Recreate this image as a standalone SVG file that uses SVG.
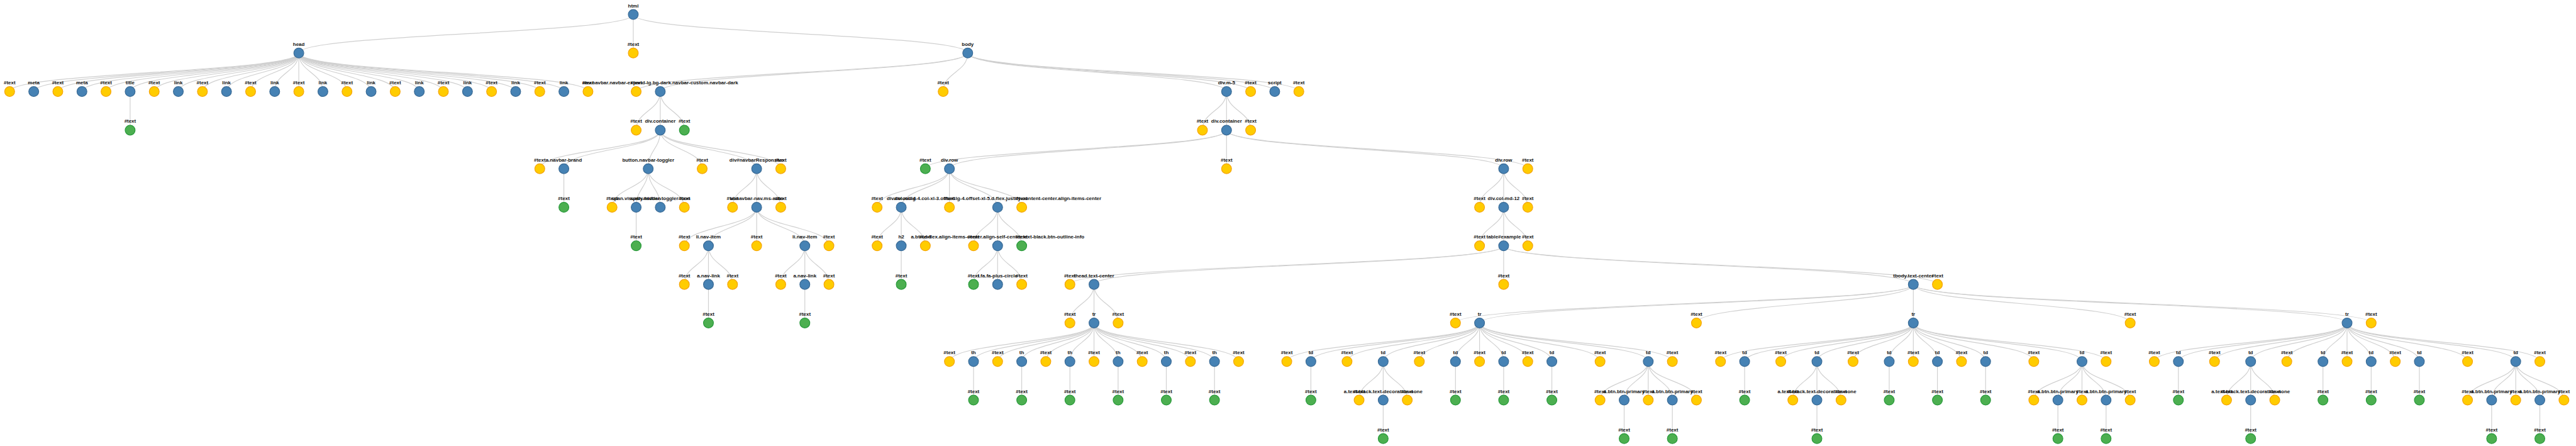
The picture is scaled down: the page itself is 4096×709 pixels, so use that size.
<svg xmlns="http://www.w3.org/2000/svg" width="4096" height="709" viewBox="0 0 4096 709">
<style>
#links path{fill:none;stroke:#cfcfcf;stroke-width:1.5}
.node circle{stroke-width:1.6}
.e circle{fill:#4682b4;stroke:#3a6b96}
.t circle{fill:#ffcc00;stroke:#f5a50a}
.g circle{fill:#4caf50;stroke:#2a9a3c}
.node text{font-family:"Liberation Sans",Arial,sans-serif;font-weight:bold;font-size:10.4px;text-anchor:middle;fill:#111}
</style>
<rect width="4096" height="709" fill="#fff"/>
<g transform="scale(0.76632)">
<g id="links">
<path d="M1314 30C1314 70 620 70 620 110"/><path d="M1314 30C1314 70 1314 70 1314 110"/><path d="M1314 30C1314 70 2008 70 2008 110"/>
<path d="M620 110C620 150 20 150 20 190"/><path d="M620 110C620 150 70 150 70 190"/><path d="M620 110C620 150 120 150 120 190"/><path d="M620 110C620 150 170 150 170 190"/><path d="M620 110C620 150 220 150 220 190"/><path d="M620 110C620 150 270 150 270 190"/><path d="M620 110C620 150 320 150 320 190"/><path d="M620 110C620 150 370 150 370 190"/><path d="M620 110C620 150 420 150 420 190"/><path d="M620 110C620 150 470 150 470 190"/><path d="M620 110C620 150 520 150 520 190"/><path d="M620 110C620 150 570 150 570 190"/><path d="M620 110C620 150 620 150 620 190"/><path d="M620 110C620 150 670 150 670 190"/><path d="M620 110C620 150 720 150 720 190"/><path d="M620 110C620 150 770 150 770 190"/><path d="M620 110C620 150 820 150 820 190"/><path d="M620 110C620 150 870 150 870 190"/><path d="M620 110C620 150 920 150 920 190"/><path d="M620 110C620 150 970 150 970 190"/><path d="M620 110C620 150 1020 150 1020 190"/><path d="M620 110C620 150 1070 150 1070 190"/><path d="M620 110C620 150 1120 150 1120 190"/><path d="M620 110C620 150 1170 150 1170 190"/><path d="M620 110C620 150 1220 150 1220 190"/>
<path d="M2008 110C2008 150 1320 150 1320 190"/><path d="M2008 110C2008 150 1370 150 1370 190"/><path d="M2008 110C2008 150 1957 150 1957 190"/><path d="M2008 110C2008 150 2545 150 2545 190"/><path d="M2008 110C2008 150 2595 150 2595 190"/><path d="M2008 110C2008 150 2645 150 2645 190"/><path d="M2008 110C2008 150 2695 150 2695 190"/>
<path d="M270 190C270 230 270 230 270 270"/><path d="M1370 190C1370 230 1320 230 1320 270"/><path d="M1370 190C1370 230 1370 230 1370 270"/><path d="M1370 190C1370 230 1420 230 1420 270"/><path d="M2545 190C2545 230 2495 230 2495 270"/><path d="M2545 190C2545 230 2545 230 2545 270"/><path d="M2545 190C2545 230 2595 230 2595 270"/>
<path d="M1370 270C1370 310 1120 310 1120 350"/><path d="M1370 270C1370 310 1170 310 1170 350"/><path d="M1370 270C1370 310 1345 310 1345 350"/><path d="M1370 270C1370 310 1457 310 1457 350"/><path d="M1370 270C1370 310 1570 310 1570 350"/><path d="M1370 270C1370 310 1620 310 1620 350"/>
<path d="M2545 270C2545 310 1920 310 1920 350"/><path d="M2545 270C2545 310 1970 310 1970 350"/><path d="M2545 270C2545 310 2545 310 2545 350"/><path d="M2545 270C2545 310 3120 310 3120 350"/><path d="M2545 270C2545 310 3170 310 3170 350"/>
<path d="M1170 350C1170 390 1170 390 1170 430"/><path d="M1345 350C1345 390 1270 390 1270 430"/><path d="M1345 350C1345 390 1320 390 1320 430"/><path d="M1345 350C1345 390 1370 390 1370 430"/><path d="M1345 350C1345 390 1420 390 1420 430"/><path d="M1570 350C1570 390 1520 390 1520 430"/><path d="M1570 350C1570 390 1570 390 1570 430"/><path d="M1570 350C1570 390 1620 390 1620 430"/>
<path d="M1970 350C1970 390 1820 390 1820 430"/><path d="M1970 350C1970 390 1870 390 1870 430"/><path d="M1970 350C1970 390 1970 390 1970 430"/><path d="M1970 350C1970 390 2070 390 2070 430"/><path d="M1970 350C1970 390 2120 390 2120 430"/><path d="M3120 350C3120 390 3070 390 3070 430"/><path d="M3120 350C3120 390 3120 390 3120 430"/><path d="M3120 350C3120 390 3170 390 3170 430"/>
<path d="M1320 430C1320 470 1320 470 1320 510"/><path d="M1570 430C1570 470 1420 470 1420 510"/><path d="M1570 430C1570 470 1470 470 1470 510"/><path d="M1570 430C1570 470 1570 470 1570 510"/><path d="M1570 430C1570 470 1670 470 1670 510"/><path d="M1570 430C1570 470 1720 470 1720 510"/>
<path d="M1870 430C1870 470 1820 470 1820 510"/><path d="M1870 430C1870 470 1870 470 1870 510"/><path d="M1870 430C1870 470 1920 470 1920 510"/><path d="M2070 430C2070 470 2020 470 2020 510"/><path d="M2070 430C2070 470 2070 470 2070 510"/><path d="M2070 430C2070 470 2120 470 2120 510"/><path d="M3120 430C3120 470 3070 470 3070 510"/><path d="M3120 430C3120 470 3120 470 3120 510"/><path d="M3120 430C3120 470 3170 470 3170 510"/>
<path d="M1470 510C1470 550 1420 550 1420 590"/><path d="M1470 510C1470 550 1470 550 1470 590"/><path d="M1470 510C1470 550 1520 550 1520 590"/><path d="M1670 510C1670 550 1620 550 1620 590"/><path d="M1670 510C1670 550 1670 550 1670 590"/><path d="M1670 510C1670 550 1720 550 1720 590"/><path d="M1870 510C1870 550 1870 550 1870 590"/><path d="M2070 510C2070 550 2020 550 2020 590"/><path d="M2070 510C2070 550 2070 550 2070 590"/><path d="M2070 510C2070 550 2120 550 2120 590"/>
<path d="M3120 510C3120 550 2220 550 2220 590"/><path d="M3120 510C3120 550 2270 550 2270 590"/><path d="M3120 510C3120 550 3120 550 3120 590"/><path d="M3120 510C3120 550 3970 550 3970 590"/><path d="M3120 510C3120 550 4020 550 4020 590"/>
<path d="M1470 590C1470 630 1470 630 1470 670"/><path d="M1670 590C1670 630 1670 630 1670 670"/><path d="M2270 590C2270 630 2220 630 2220 670"/><path d="M2270 590C2270 630 2270 630 2270 670"/><path d="M2270 590C2270 630 2320 630 2320 670"/>
<path d="M3970 590C3970 630 3020 630 3020 670"/><path d="M3970 590C3970 630 3070 630 3070 670"/><path d="M3970 590C3970 630 3520 630 3520 670"/><path d="M3970 590C3970 630 3970 630 3970 670"/><path d="M3970 590C3970 630 4420 630 4420 670"/><path d="M3970 590C3970 630 4870 630 4870 670"/><path d="M3970 590C3970 630 4920 630 4920 670"/>
<path d="M2270 670C2270 710 1970 710 1970 750"/><path d="M2270 670C2270 710 2020 710 2020 750"/><path d="M2270 670C2270 710 2070 710 2070 750"/><path d="M2270 670C2270 710 2120 710 2120 750"/><path d="M2270 670C2270 710 2170 710 2170 750"/><path d="M2270 670C2270 710 2220 710 2220 750"/><path d="M2270 670C2270 710 2270 710 2270 750"/><path d="M2270 670C2270 710 2320 710 2320 750"/><path d="M2270 670C2270 710 2370 710 2370 750"/><path d="M2270 670C2270 710 2420 710 2420 750"/><path d="M2270 670C2270 710 2470 710 2470 750"/><path d="M2270 670C2270 710 2520 710 2520 750"/><path d="M2270 670C2270 710 2570 710 2570 750"/>
<path d="M3070 670C3070 710 2670 710 2670 750"/><path d="M3070 670C3070 710 2720 710 2720 750"/><path d="M3070 670C3070 710 2795 710 2795 750"/><path d="M3070 670C3070 710 2870 710 2870 750"/><path d="M3070 670C3070 710 2945 710 2945 750"/><path d="M3070 670C3070 710 3020 710 3020 750"/><path d="M3070 670C3070 710 3070 710 3070 750"/><path d="M3070 670C3070 710 3120 710 3120 750"/><path d="M3070 670C3070 710 3170 710 3170 750"/><path d="M3070 670C3070 710 3220 710 3220 750"/><path d="M3070 670C3070 710 3320 710 3320 750"/><path d="M3070 670C3070 710 3420 710 3420 750"/><path d="M3070 670C3070 710 3470 710 3470 750"/>
<path d="M3970 670C3970 710 3570 710 3570 750"/><path d="M3970 670C3970 710 3620 710 3620 750"/><path d="M3970 670C3970 710 3695 710 3695 750"/><path d="M3970 670C3970 710 3770 710 3770 750"/><path d="M3970 670C3970 710 3845 710 3845 750"/><path d="M3970 670C3970 710 3920 710 3920 750"/><path d="M3970 670C3970 710 3970 710 3970 750"/><path d="M3970 670C3970 710 4020 710 4020 750"/><path d="M3970 670C3970 710 4070 710 4070 750"/><path d="M3970 670C3970 710 4120 710 4120 750"/><path d="M3970 670C3970 710 4220 710 4220 750"/><path d="M3970 670C3970 710 4320 710 4320 750"/><path d="M3970 670C3970 710 4370 710 4370 750"/>
<path d="M4870 670C4870 710 4470 710 4470 750"/><path d="M4870 670C4870 710 4520 710 4520 750"/><path d="M4870 670C4870 710 4595 710 4595 750"/><path d="M4870 670C4870 710 4670 710 4670 750"/><path d="M4870 670C4870 710 4745 710 4745 750"/><path d="M4870 670C4870 710 4820 710 4820 750"/><path d="M4870 670C4870 710 4870 710 4870 750"/><path d="M4870 670C4870 710 4920 710 4920 750"/><path d="M4870 670C4870 710 4970 710 4970 750"/><path d="M4870 670C4870 710 5020 710 5020 750"/><path d="M4870 670C4870 710 5120 710 5120 750"/><path d="M4870 670C4870 710 5220 710 5220 750"/><path d="M4870 670C4870 710 5270 710 5270 750"/>
<path d="M2020 750C2020 790 2020 790 2020 830"/><path d="M2120 750C2120 790 2120 790 2120 830"/><path d="M2220 750C2220 790 2220 790 2220 830"/><path d="M2320 750C2320 790 2320 790 2320 830"/><path d="M2420 750C2420 790 2420 790 2420 830"/><path d="M2520 750C2520 790 2520 790 2520 830"/>
<path d="M2720 750C2720 790 2720 790 2720 830"/><path d="M2870 750C2870 790 2820 790 2820 830"/><path d="M2870 750C2870 790 2870 790 2870 830"/><path d="M2870 750C2870 790 2920 790 2920 830"/><path d="M3020 750C3020 790 3020 790 3020 830"/><path d="M3120 750C3120 790 3120 790 3120 830"/><path d="M3220 750C3220 790 3220 790 3220 830"/><path d="M3420 750C3420 790 3320 790 3320 830"/><path d="M3420 750C3420 790 3370 790 3370 830"/><path d="M3420 750C3420 790 3420 790 3420 830"/><path d="M3420 750C3420 790 3470 790 3470 830"/><path d="M3420 750C3420 790 3520 790 3520 830"/>
<path d="M3620 750C3620 790 3620 790 3620 830"/><path d="M3770 750C3770 790 3720 790 3720 830"/><path d="M3770 750C3770 790 3770 790 3770 830"/><path d="M3770 750C3770 790 3820 790 3820 830"/><path d="M3920 750C3920 790 3920 790 3920 830"/><path d="M4020 750C4020 790 4020 790 4020 830"/><path d="M4120 750C4120 790 4120 790 4120 830"/><path d="M4320 750C4320 790 4220 790 4220 830"/><path d="M4320 750C4320 790 4270 790 4270 830"/><path d="M4320 750C4320 790 4320 790 4320 830"/><path d="M4320 750C4320 790 4370 790 4370 830"/><path d="M4320 750C4320 790 4420 790 4420 830"/>
<path d="M4520 750C4520 790 4520 790 4520 830"/><path d="M4670 750C4670 790 4620 790 4620 830"/><path d="M4670 750C4670 790 4670 790 4670 830"/><path d="M4670 750C4670 790 4720 790 4720 830"/><path d="M4820 750C4820 790 4820 790 4820 830"/><path d="M4920 750C4920 790 4920 790 4920 830"/><path d="M5020 750C5020 790 5020 790 5020 830"/><path d="M5220 750C5220 790 5120 790 5120 830"/><path d="M5220 750C5220 790 5170 790 5170 830"/><path d="M5220 750C5220 790 5220 790 5220 830"/><path d="M5220 750C5220 790 5270 790 5270 830"/><path d="M5220 750C5220 790 5320 790 5320 830"/>
<path d="M2870 830C2870 870 2870 870 2870 910"/><path d="M3370 830C3370 870 3370 870 3370 910"/><path d="M3470 830C3470 870 3470 870 3470 910"/>
<path d="M3770 830C3770 870 3770 870 3770 910"/><path d="M4270 830C4270 870 4270 870 4270 910"/><path d="M4370 830C4370 870 4370 870 4370 910"/>
<path d="M4670 830C4670 870 4670 870 4670 910"/><path d="M5170 830C5170 870 5170 870 5170 910"/><path d="M5270 830C5270 870 5270 870 5270 910"/>
</g>
<g id="nodes">
<g id="n-html" class="node e" transform="translate(1314,30)"><circle r="10.3"/><text y="-15">html</text></g>
<g id="n-head" class="node e" transform="translate(620,110)"><circle r="10.3"/><text y="-15">head</text></g>
<g id="n-html-text" class="node t" transform="translate(1314,110)"><circle r="10.3"/><text y="-15">#text</text></g>
<g id="n-body" class="node e" transform="translate(2008,110)"><circle r="10.3"/><text y="-15">body</text></g>
<g id="h0" class="node t" transform="translate(20,190)"><circle r="10.3"/><text y="-15">#text</text></g>
<g id="h1" class="node e" transform="translate(70,190)"><circle r="10.3"/><text y="-15">meta</text></g>
<g id="h2" class="node t" transform="translate(120,190)"><circle r="10.3"/><text y="-15">#text</text></g>
<g id="h3" class="node e" transform="translate(170,190)"><circle r="10.3"/><text y="-15">meta</text></g>
<g id="h4" class="node t" transform="translate(220,190)"><circle r="10.3"/><text y="-15">#text</text></g>
<g id="h5" class="node e" transform="translate(270,190)"><circle r="10.3"/><text y="-15">title</text></g>
<g id="h6" class="node t" transform="translate(320,190)"><circle r="10.3"/><text y="-15">#text</text></g>
<g id="h7" class="node e" transform="translate(370,190)"><circle r="10.3"/><text y="-15">link</text></g>
<g id="h8" class="node t" transform="translate(420,190)"><circle r="10.3"/><text y="-15">#text</text></g>
<g id="h9" class="node e" transform="translate(470,190)"><circle r="10.3"/><text y="-15">link</text></g>
<g id="h10" class="node t" transform="translate(520,190)"><circle r="10.3"/><text y="-15">#text</text></g>
<g id="h11" class="node e" transform="translate(570,190)"><circle r="10.3"/><text y="-15">link</text></g>
<g id="h12" class="node t" transform="translate(620,190)"><circle r="10.3"/><text y="-15">#text</text></g>
<g id="h13" class="node e" transform="translate(670,190)"><circle r="10.3"/><text y="-15">link</text></g>
<g id="h14" class="node t" transform="translate(720,190)"><circle r="10.3"/><text y="-15">#text</text></g>
<g id="h15" class="node e" transform="translate(770,190)"><circle r="10.3"/><text y="-15">link</text></g>
<g id="h16" class="node t" transform="translate(820,190)"><circle r="10.3"/><text y="-15">#text</text></g>
<g id="h17" class="node e" transform="translate(870,190)"><circle r="10.3"/><text y="-15">link</text></g>
<g id="h18" class="node t" transform="translate(920,190)"><circle r="10.3"/><text y="-15">#text</text></g>
<g id="h19" class="node e" transform="translate(970,190)"><circle r="10.3"/><text y="-15">link</text></g>
<g id="h20" class="node t" transform="translate(1020,190)"><circle r="10.3"/><text y="-15">#text</text></g>
<g id="h21" class="node e" transform="translate(1070,190)"><circle r="10.3"/><text y="-15">link</text></g>
<g id="h22" class="node t" transform="translate(1120,190)"><circle r="10.3"/><text y="-15">#text</text></g>
<g id="h23" class="node e" transform="translate(1170,190)"><circle r="10.3"/><text y="-15">link</text></g>
<g id="h24" class="node t" transform="translate(1220,190)"><circle r="10.3"/><text y="-15">#text</text></g>
<g id="b0" class="node t" transform="translate(1320,190)"><circle r="10.3"/><text y="-15">#text</text></g>
<g id="b1" class="node e" transform="translate(1370,190)"><circle r="10.3"/><text y="-15">nav.navbar.navbar-expand-lg.bg-dark.navbar-custom.navbar-dark</text></g>
<g id="b2" class="node t" transform="translate(1957,190)"><circle r="10.3"/><text y="-15">#text</text></g>
<g id="b3" class="node e" transform="translate(2545,190)"><circle r="10.3"/><text y="-15">div.m-5</text></g>
<g id="b4" class="node t" transform="translate(2595,190)"><circle r="10.3"/><text y="-15">#text</text></g>
<g id="b5" class="node e" transform="translate(2645,190)"><circle r="10.3"/><text y="-15">script</text></g>
<g id="b6" class="node t" transform="translate(2695,190)"><circle r="10.3"/><text y="-15">#text</text></g>
<g id="title-text" class="node g" transform="translate(270,270)"><circle r="10.3"/><text y="-15">#text</text></g>
<g id="nav0" class="node t" transform="translate(1320,270)"><circle r="10.3"/><text y="-15">#text</text></g>
<g id="nav1" class="node e" transform="translate(1370,270)"><circle r="10.3"/><text y="-15">div.container</text></g>
<g id="nav2" class="node g" transform="translate(1420,270)"><circle r="10.3"/><text y="-15">#text</text></g>
<g id="m0" class="node t" transform="translate(2495,270)"><circle r="10.3"/><text y="-15">#text</text></g>
<g id="m1" class="node e" transform="translate(2545,270)"><circle r="10.3"/><text y="-15">div.container</text></g>
<g id="m2" class="node t" transform="translate(2595,270)"><circle r="10.3"/><text y="-15">#text</text></g>
<g id="c0" class="node t" transform="translate(1120,350)"><circle r="10.3"/><text y="-15">#text</text></g>
<g id="c1" class="node e" transform="translate(1170,350)"><circle r="10.3"/><text y="-15">a.navbar-brand</text></g>
<g id="c2" class="node e" transform="translate(1345,350)"><circle r="10.3"/><text y="-15">button.navbar-toggler</text></g>
<g id="c3" class="node t" transform="translate(1457,350)"><circle r="10.3"/><text y="-15">#text</text></g>
<g id="c4" class="node e" transform="translate(1570,350)"><circle r="10.3"/><text y="-15">div#navbarResponsive</text></g>
<g id="c5" class="node t" transform="translate(1620,350)"><circle r="10.3"/><text y="-15">#text</text></g>
<g id="d0" class="node g" transform="translate(1920,350)"><circle r="10.3"/><text y="-15">#text</text></g>
<g id="d1" class="node e" transform="translate(1970,350)"><circle r="10.3"/><text y="-15">div.row</text></g>
<g id="d2" class="node t" transform="translate(2545,350)"><circle r="10.3"/><text y="-15">#text</text></g>
<g id="d3" class="node e" transform="translate(3120,350)"><circle r="10.3"/><text y="-15">div.row</text></g>
<g id="d4" class="node t" transform="translate(3170,350)"><circle r="10.3"/><text y="-15">#text</text></g>
<g id="brand-text" class="node g" transform="translate(1170,430)"><circle r="10.3"/><text y="-15">#text</text></g>
<g id="bt0" class="node t" transform="translate(1270,430)"><circle r="10.3"/><text y="-15">#text</text></g>
<g id="bt1" class="node e" transform="translate(1320,430)"><circle r="10.3"/><text y="-15">span.visually-hidden</text></g>
<g id="bt2" class="node e" transform="translate(1370,430)"><circle r="10.3"/><text y="-15">span.navbar-toggler-icon</text></g>
<g id="bt3" class="node t" transform="translate(1420,430)"><circle r="10.3"/><text y="-15">#text</text></g>
<g id="nr0" class="node t" transform="translate(1520,430)"><circle r="10.3"/><text y="-15">#text</text></g>
<g id="nr1" class="node e" transform="translate(1570,430)"><circle r="10.3"/><text y="-15">ul.navbar-nav.ms-auto</text></g>
<g id="nr2" class="node t" transform="translate(1620,430)"><circle r="10.3"/><text y="-15">#text</text></g>
<g id="r0" class="node t" transform="translate(1820,430)"><circle r="10.3"/><text y="-15">#text</text></g>
<g id="r1" class="node e" transform="translate(1870,430)"><circle r="10.3"/><text y="-15">div.col-md-4</text></g>
<g id="r2" class="node t" transform="translate(1970,430)"><circle r="10.3"/><text y="-15">#text</text></g>
<g id="r3" class="node e" transform="translate(2070,430)"><circle r="10.3"/><text y="-15">div.col-lg-4.col-xl-3.offset-lg-4.offset-xl-5.d-flex.justify-content-center.align-items-center</text></g>
<g id="r4" class="node t" transform="translate(2120,430)"><circle r="10.3"/><text y="-15">#text</text></g>
<g id="r5" class="node t" transform="translate(3070,430)"><circle r="10.3"/><text y="-15">#text</text></g>
<g id="r6" class="node e" transform="translate(3120,430)"><circle r="10.3"/><text y="-15">div.col-md-12</text></g>
<g id="r7" class="node t" transform="translate(3170,430)"><circle r="10.3"/><text y="-15">#text</text></g>
<g id="vh-text" class="node g" transform="translate(1320,510)"><circle r="10.3"/><text y="-15">#text</text></g>
<g id="ul0" class="node t" transform="translate(1420,510)"><circle r="10.3"/><text y="-15">#text</text></g>
<g id="ul1" class="node e" transform="translate(1470,510)"><circle r="10.3"/><text y="-15">li.nav-item</text></g>
<g id="ul2" class="node t" transform="translate(1570,510)"><circle r="10.3"/><text y="-15">#text</text></g>
<g id="ul3" class="node e" transform="translate(1670,510)"><circle r="10.3"/><text y="-15">li.nav-item</text></g>
<g id="ul4" class="node t" transform="translate(1720,510)"><circle r="10.3"/><text y="-15">#text</text></g>
<g id="cm0" class="node t" transform="translate(1820,510)"><circle r="10.3"/><text y="-15">#text</text></g>
<g id="cm1" class="node e" transform="translate(1870,510)"><circle r="10.3"/><text y="-15">h2</text></g>
<g id="cm2" class="node t" transform="translate(1920,510)"><circle r="10.3"/><text y="-15">#text</text></g>
<g id="cl0" class="node t" transform="translate(2020,510)"><circle r="10.3"/><text y="-15">#text</text></g>
<g id="cl1" class="node e" transform="translate(2070,510)"><circle r="10.3"/><text y="-15">a.btn.d-flex.align-items-center.align-self-center.text-black.btn-outline-info</text></g>
<g id="cl2" class="node g" transform="translate(2120,510)"><circle r="10.3"/><text y="-15">#text</text></g>
<g id="c12a" class="node t" transform="translate(3070,510)"><circle r="10.3"/><text y="-15">#text</text></g>
<g id="c12b" class="node e" transform="translate(3120,510)"><circle r="10.3"/><text y="-15">table#example</text></g>
<g id="c12c" class="node t" transform="translate(3170,510)"><circle r="10.3"/><text y="-15">#text</text></g>
<g id="li1a" class="node t" transform="translate(1420,590)"><circle r="10.3"/><text y="-15">#text</text></g>
<g id="li1b" class="node e" transform="translate(1470,590)"><circle r="10.3"/><text y="-15">a.nav-link</text></g>
<g id="li1c" class="node t" transform="translate(1520,590)"><circle r="10.3"/><text y="-15">#text</text></g>
<g id="li2a" class="node t" transform="translate(1620,590)"><circle r="10.3"/><text y="-15">#text</text></g>
<g id="li2b" class="node e" transform="translate(1670,590)"><circle r="10.3"/><text y="-15">a.nav-link</text></g>
<g id="li2c" class="node t" transform="translate(1720,590)"><circle r="10.3"/><text y="-15">#text</text></g>
<g id="h2-text" class="node g" transform="translate(1870,590)"><circle r="10.3"/><text y="-15">#text</text></g>
<g id="ab0" class="node g" transform="translate(2020,590)"><circle r="10.3"/><text y="-15">#text</text></g>
<g id="ab1" class="node e" transform="translate(2070,590)"><circle r="10.3"/><text y="-15">i.fa.fa-plus-circle</text></g>
<g id="ab2" class="node t" transform="translate(2120,590)"><circle r="10.3"/><text y="-15">#text</text></g>
<g id="tb0" class="node t" transform="translate(2220,590)"><circle r="10.3"/><text y="-15">#text</text></g>
<g id="tb1" class="node e" transform="translate(2270,590)"><circle r="10.3"/><text y="-15">thead.text-center</text></g>
<g id="tb2" class="node t" transform="translate(3120,590)"><circle r="10.3"/><text y="-15">#text</text></g>
<g id="tb3" class="node e" transform="translate(3970,590)"><circle r="10.3"/><text y="-15">tbody.text-center</text></g>
<g id="tb4" class="node t" transform="translate(4020,590)"><circle r="10.3"/><text y="-15">#text</text></g>
<g id="nl1-text" class="node g" transform="translate(1470,670)"><circle r="10.3"/><text y="-15">#text</text></g>
<g id="nl2-text" class="node g" transform="translate(1670,670)"><circle r="10.3"/><text y="-15">#text</text></g>
<g id="th0" class="node t" transform="translate(2220,670)"><circle r="10.3"/><text y="-15">#text</text></g>
<g id="th1" class="node e" transform="translate(2270,670)"><circle r="10.3"/><text y="-15">tr</text></g>
<g id="th2" class="node t" transform="translate(2320,670)"><circle r="10.3"/><text y="-15">#text</text></g>
<g id="tbd0" class="node t" transform="translate(3020,670)"><circle r="10.3"/><text y="-15">#text</text></g>
<g id="tbd1" class="node e" transform="translate(3070,670)"><circle r="10.3"/><text y="-15">tr</text></g>
<g id="tbd2" class="node t" transform="translate(3520,670)"><circle r="10.3"/><text y="-15">#text</text></g>
<g id="tbd3" class="node e" transform="translate(3970,670)"><circle r="10.3"/><text y="-15">tr</text></g>
<g id="tbd4" class="node t" transform="translate(4420,670)"><circle r="10.3"/><text y="-15">#text</text></g>
<g id="tbd5" class="node e" transform="translate(4870,670)"><circle r="10.3"/><text y="-15">tr</text></g>
<g id="tbd6" class="node t" transform="translate(4920,670)"><circle r="10.3"/><text y="-15">#text</text></g>
<g id="hr0" class="node t" transform="translate(1970,750)"><circle r="10.3"/><text y="-15">#text</text></g>
<g id="hr1" class="node e" transform="translate(2020,750)"><circle r="10.3"/><text y="-15">th</text></g>
<g id="hr2" class="node t" transform="translate(2070,750)"><circle r="10.3"/><text y="-15">#text</text></g>
<g id="hr3" class="node e" transform="translate(2120,750)"><circle r="10.3"/><text y="-15">th</text></g>
<g id="hr4" class="node t" transform="translate(2170,750)"><circle r="10.3"/><text y="-15">#text</text></g>
<g id="hr5" class="node e" transform="translate(2220,750)"><circle r="10.3"/><text y="-15">th</text></g>
<g id="hr6" class="node t" transform="translate(2270,750)"><circle r="10.3"/><text y="-15">#text</text></g>
<g id="hr7" class="node e" transform="translate(2320,750)"><circle r="10.3"/><text y="-15">th</text></g>
<g id="hr8" class="node t" transform="translate(2370,750)"><circle r="10.3"/><text y="-15">#text</text></g>
<g id="hr9" class="node e" transform="translate(2420,750)"><circle r="10.3"/><text y="-15">th</text></g>
<g id="hr10" class="node t" transform="translate(2470,750)"><circle r="10.3"/><text y="-15">#text</text></g>
<g id="hr11" class="node e" transform="translate(2520,750)"><circle r="10.3"/><text y="-15">th</text></g>
<g id="hr12" class="node t" transform="translate(2570,750)"><circle r="10.3"/><text y="-15">#text</text></g>
<g id="th1-text" class="node g" transform="translate(2020,830)"><circle r="10.3"/><text y="-15">#text</text></g>
<g id="th2-text" class="node g" transform="translate(2120,830)"><circle r="10.3"/><text y="-15">#text</text></g>
<g id="th3-text" class="node g" transform="translate(2220,830)"><circle r="10.3"/><text y="-15">#text</text></g>
<g id="th4-text" class="node g" transform="translate(2320,830)"><circle r="10.3"/><text y="-15">#text</text></g>
<g id="th5-text" class="node g" transform="translate(2420,830)"><circle r="10.3"/><text y="-15">#text</text></g>
<g id="th6-text" class="node g" transform="translate(2520,830)"><circle r="10.3"/><text y="-15">#text</text></g>
<g id="ra0" class="node t" transform="translate(2670,750)"><circle r="10.3"/><text y="-15">#text</text></g>
<g id="ra1" class="node e" transform="translate(2720,750)"><circle r="10.3"/><text y="-15">td</text></g>
<g id="ra2" class="node t" transform="translate(2795,750)"><circle r="10.3"/><text y="-15">#text</text></g>
<g id="ra3" class="node e" transform="translate(2870,750)"><circle r="10.3"/><text y="-15">td</text></g>
<g id="ra4" class="node t" transform="translate(2945,750)"><circle r="10.3"/><text y="-15">#text</text></g>
<g id="ra5" class="node e" transform="translate(3020,750)"><circle r="10.3"/><text y="-15">td</text></g>
<g id="ra6" class="node t" transform="translate(3070,750)"><circle r="10.3"/><text y="-15">#text</text></g>
<g id="ra7" class="node e" transform="translate(3120,750)"><circle r="10.3"/><text y="-15">td</text></g>
<g id="ra8" class="node t" transform="translate(3170,750)"><circle r="10.3"/><text y="-15">#text</text></g>
<g id="ra9" class="node e" transform="translate(3220,750)"><circle r="10.3"/><text y="-15">td</text></g>
<g id="ra10" class="node t" transform="translate(3320,750)"><circle r="10.3"/><text y="-15">#text</text></g>
<g id="ra11" class="node e" transform="translate(3420,750)"><circle r="10.3"/><text y="-15">td</text></g>
<g id="ra12" class="node t" transform="translate(3470,750)"><circle r="10.3"/><text y="-15">#text</text></g>
<g id="ra-t1" class="node g" transform="translate(2720,830)"><circle r="10.3"/><text y="-15">#text</text></g>
<g id="ra-a0" class="node t" transform="translate(2820,830)"><circle r="10.3"/><text y="-15">#text</text></g>
<g id="ra-a1" class="node e" transform="translate(2870,830)"><circle r="10.3"/><text y="-15">a.text-black.text-decoration-none</text></g>
<g id="ra-a2" class="node t" transform="translate(2920,830)"><circle r="10.3"/><text y="-15">#text</text></g>
<g id="ra-t3" class="node g" transform="translate(3020,830)"><circle r="10.3"/><text y="-15">#text</text></g>
<g id="ra-t4" class="node g" transform="translate(3120,830)"><circle r="10.3"/><text y="-15">#text</text></g>
<g id="ra-t5" class="node g" transform="translate(3220,830)"><circle r="10.3"/><text y="-15">#text</text></g>
<g id="ra-b0" class="node t" transform="translate(3320,830)"><circle r="10.3"/><text y="-15">#text</text></g>
<g id="ra-b1" class="node e" transform="translate(3370,830)"><circle r="10.3"/><text y="-15">a.btn.btn-primary</text></g>
<g id="ra-b2" class="node t" transform="translate(3420,830)"><circle r="10.3"/><text y="-15">#text</text></g>
<g id="ra-b3" class="node e" transform="translate(3470,830)"><circle r="10.3"/><text y="-15">a.btn.btn-primary</text></g>
<g id="ra-b4" class="node t" transform="translate(3520,830)"><circle r="10.3"/><text y="-15">#text</text></g>
<g id="ra-l1" class="node g" transform="translate(2870,910)"><circle r="10.3"/><text y="-15">#text</text></g>
<g id="ra-l2" class="node g" transform="translate(3370,910)"><circle r="10.3"/><text y="-15">#text</text></g>
<g id="ra-l3" class="node g" transform="translate(3470,910)"><circle r="10.3"/><text y="-15">#text</text></g>
<g id="rb0" class="node t" transform="translate(3570,750)"><circle r="10.3"/><text y="-15">#text</text></g>
<g id="rb1" class="node e" transform="translate(3620,750)"><circle r="10.3"/><text y="-15">td</text></g>
<g id="rb2" class="node t" transform="translate(3695,750)"><circle r="10.3"/><text y="-15">#text</text></g>
<g id="rb3" class="node e" transform="translate(3770,750)"><circle r="10.3"/><text y="-15">td</text></g>
<g id="rb4" class="node t" transform="translate(3845,750)"><circle r="10.3"/><text y="-15">#text</text></g>
<g id="rb5" class="node e" transform="translate(3920,750)"><circle r="10.3"/><text y="-15">td</text></g>
<g id="rb6" class="node t" transform="translate(3970,750)"><circle r="10.3"/><text y="-15">#text</text></g>
<g id="rb7" class="node e" transform="translate(4020,750)"><circle r="10.3"/><text y="-15">td</text></g>
<g id="rb8" class="node t" transform="translate(4070,750)"><circle r="10.3"/><text y="-15">#text</text></g>
<g id="rb9" class="node e" transform="translate(4120,750)"><circle r="10.3"/><text y="-15">td</text></g>
<g id="rb10" class="node t" transform="translate(4220,750)"><circle r="10.3"/><text y="-15">#text</text></g>
<g id="rb11" class="node e" transform="translate(4320,750)"><circle r="10.3"/><text y="-15">td</text></g>
<g id="rb12" class="node t" transform="translate(4370,750)"><circle r="10.3"/><text y="-15">#text</text></g>
<g id="rb-t1" class="node g" transform="translate(3620,830)"><circle r="10.3"/><text y="-15">#text</text></g>
<g id="rb-a0" class="node t" transform="translate(3720,830)"><circle r="10.3"/><text y="-15">#text</text></g>
<g id="rb-a1" class="node e" transform="translate(3770,830)"><circle r="10.3"/><text y="-15">a.text-black.text-decoration-none</text></g>
<g id="rb-a2" class="node t" transform="translate(3820,830)"><circle r="10.3"/><text y="-15">#text</text></g>
<g id="rb-t3" class="node g" transform="translate(3920,830)"><circle r="10.3"/><text y="-15">#text</text></g>
<g id="rb-t4" class="node g" transform="translate(4020,830)"><circle r="10.3"/><text y="-15">#text</text></g>
<g id="rb-t5" class="node g" transform="translate(4120,830)"><circle r="10.3"/><text y="-15">#text</text></g>
<g id="rb-b0" class="node t" transform="translate(4220,830)"><circle r="10.3"/><text y="-15">#text</text></g>
<g id="rb-b1" class="node e" transform="translate(4270,830)"><circle r="10.3"/><text y="-15">a.btn.btn-primary</text></g>
<g id="rb-b2" class="node t" transform="translate(4320,830)"><circle r="10.3"/><text y="-15">#text</text></g>
<g id="rb-b3" class="node e" transform="translate(4370,830)"><circle r="10.3"/><text y="-15">a.btn.btn-primary</text></g>
<g id="rb-b4" class="node t" transform="translate(4420,830)"><circle r="10.3"/><text y="-15">#text</text></g>
<g id="rb-l1" class="node g" transform="translate(3770,910)"><circle r="10.3"/><text y="-15">#text</text></g>
<g id="rb-l2" class="node g" transform="translate(4270,910)"><circle r="10.3"/><text y="-15">#text</text></g>
<g id="rb-l3" class="node g" transform="translate(4370,910)"><circle r="10.3"/><text y="-15">#text</text></g>
<g id="rc0" class="node t" transform="translate(4470,750)"><circle r="10.3"/><text y="-15">#text</text></g>
<g id="rc1" class="node e" transform="translate(4520,750)"><circle r="10.3"/><text y="-15">td</text></g>
<g id="rc2" class="node t" transform="translate(4595,750)"><circle r="10.3"/><text y="-15">#text</text></g>
<g id="rc3" class="node e" transform="translate(4670,750)"><circle r="10.3"/><text y="-15">td</text></g>
<g id="rc4" class="node t" transform="translate(4745,750)"><circle r="10.3"/><text y="-15">#text</text></g>
<g id="rc5" class="node e" transform="translate(4820,750)"><circle r="10.3"/><text y="-15">td</text></g>
<g id="rc6" class="node t" transform="translate(4870,750)"><circle r="10.3"/><text y="-15">#text</text></g>
<g id="rc7" class="node e" transform="translate(4920,750)"><circle r="10.3"/><text y="-15">td</text></g>
<g id="rc8" class="node t" transform="translate(4970,750)"><circle r="10.3"/><text y="-15">#text</text></g>
<g id="rc9" class="node e" transform="translate(5020,750)"><circle r="10.3"/><text y="-15">td</text></g>
<g id="rc10" class="node t" transform="translate(5120,750)"><circle r="10.3"/><text y="-15">#text</text></g>
<g id="rc11" class="node e" transform="translate(5220,750)"><circle r="10.3"/><text y="-15">td</text></g>
<g id="rc12" class="node t" transform="translate(5270,750)"><circle r="10.3"/><text y="-15">#text</text></g>
<g id="rc-t1" class="node g" transform="translate(4520,830)"><circle r="10.3"/><text y="-15">#text</text></g>
<g id="rc-a0" class="node t" transform="translate(4620,830)"><circle r="10.3"/><text y="-15">#text</text></g>
<g id="rc-a1" class="node e" transform="translate(4670,830)"><circle r="10.3"/><text y="-15">a.text-black.text-decoration-none</text></g>
<g id="rc-a2" class="node t" transform="translate(4720,830)"><circle r="10.3"/><text y="-15">#text</text></g>
<g id="rc-t3" class="node g" transform="translate(4820,830)"><circle r="10.3"/><text y="-15">#text</text></g>
<g id="rc-t4" class="node g" transform="translate(4920,830)"><circle r="10.3"/><text y="-15">#text</text></g>
<g id="rc-t5" class="node g" transform="translate(5020,830)"><circle r="10.3"/><text y="-15">#text</text></g>
<g id="rc-b0" class="node t" transform="translate(5120,830)"><circle r="10.3"/><text y="-15">#text</text></g>
<g id="rc-b1" class="node e" transform="translate(5170,830)"><circle r="10.3"/><text y="-15">a.btn.btn-primary</text></g>
<g id="rc-b2" class="node t" transform="translate(5220,830)"><circle r="10.3"/><text y="-15">#text</text></g>
<g id="rc-b3" class="node e" transform="translate(5270,830)"><circle r="10.3"/><text y="-15">a.btn.btn-primary</text></g>
<g id="rc-b4" class="node t" transform="translate(5320,830)"><circle r="10.3"/><text y="-15">#text</text></g>
<g id="rc-l1" class="node g" transform="translate(4670,910)"><circle r="10.3"/><text y="-15">#text</text></g>
<g id="rc-l2" class="node g" transform="translate(5170,910)"><circle r="10.3"/><text y="-15">#text</text></g>
<g id="rc-l3" class="node g" transform="translate(5270,910)"><circle r="10.3"/><text y="-15">#text</text></g>
</g>
</g>
</svg>
